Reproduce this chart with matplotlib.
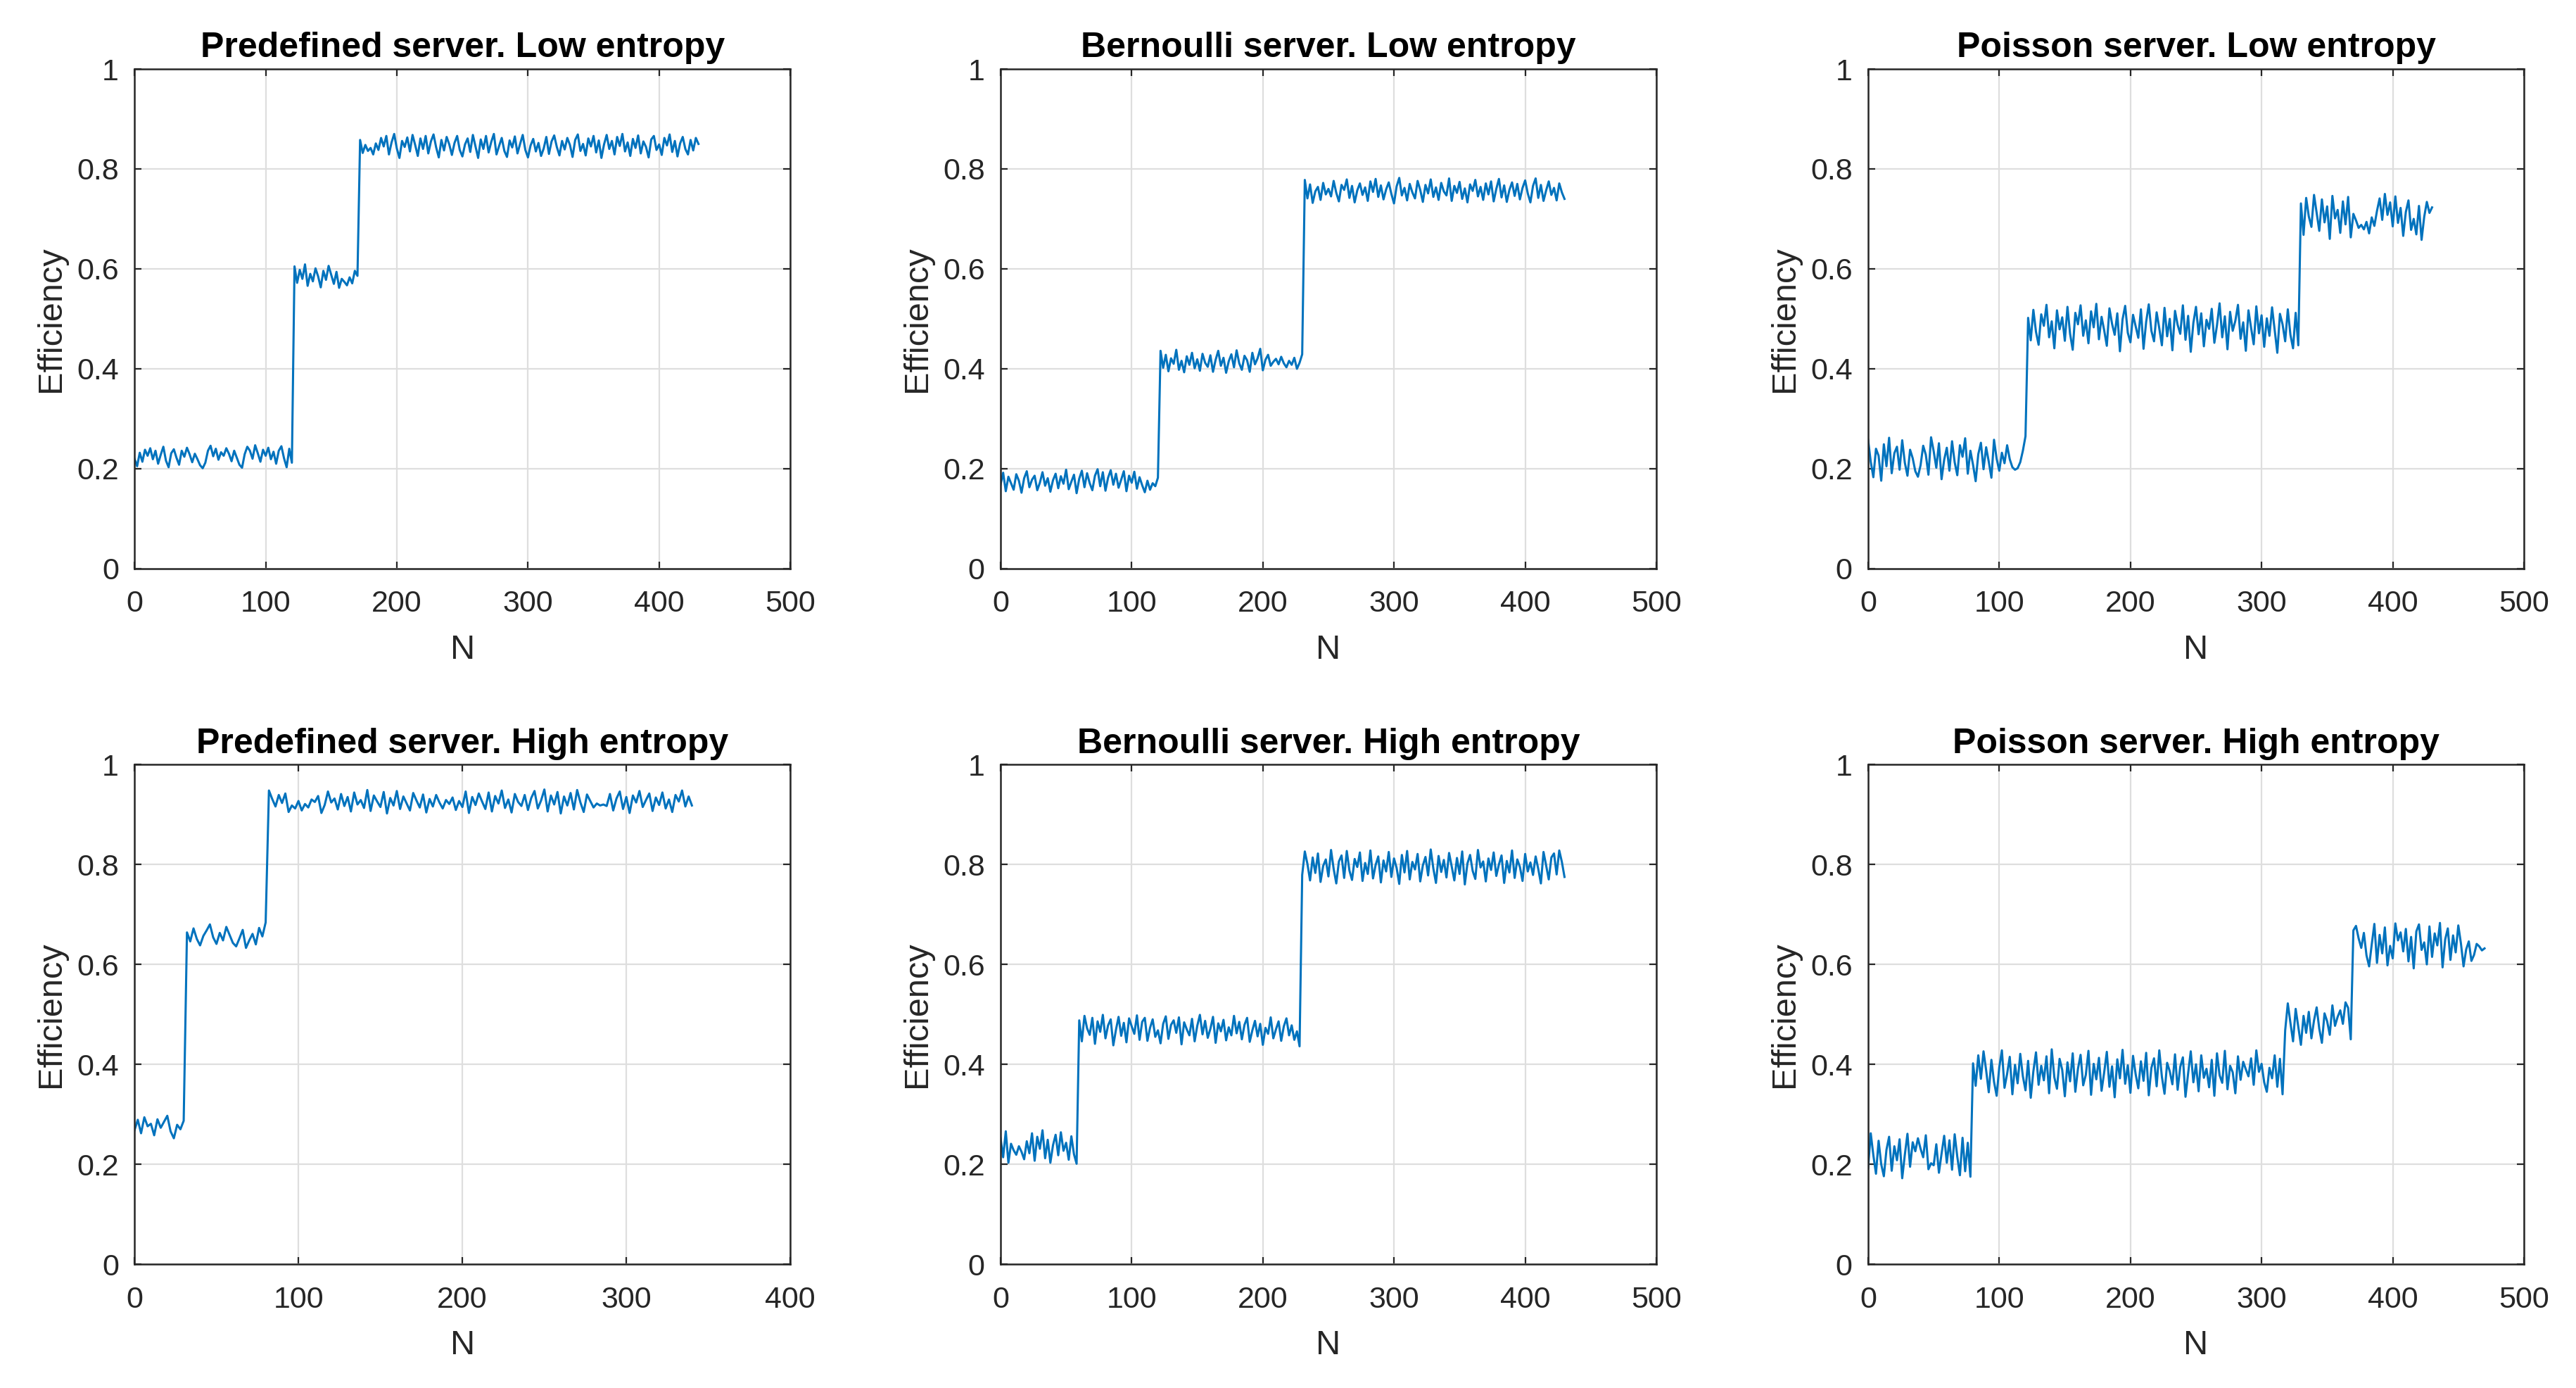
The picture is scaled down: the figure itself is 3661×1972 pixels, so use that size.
import numpy as np
import matplotlib
matplotlib.use("Agg")
import matplotlib.pyplot as plt

# efficiency values are stored in per-mille, one value every 2 steps of N
step = 2

pred_low = [
    # level 1
    220, 205, 232, 214, 238, 226, 241, 219, 236, 210,
    228, 244, 216, 203, 231, 239, 222, 208, 236, 224,
    242, 229, 213, 230, 219, 207, 201, 212, 236, 246,
    225, 240, 218, 233, 226, 241, 230, 215, 236, 222,
    208, 202, 229, 244, 236, 220, 247, 231, 214, 238,
    226, 242, 219, 234, 210, 236, 245, 221, 203, 240,
    212,
    # level 2
    605, 572, 598, 580, 609, 566, 590, 575, 601, 585,
    563, 596, 578, 606, 588, 570, 594, 562, 580, 574,
    567, 583, 571, 596, 586,
    # level 3
    858, 832, 848, 836, 842, 829, 851, 838, 862, 845,
    866, 829, 853, 870, 841, 822, 856, 844, 863, 835,
    868, 848, 826, 861, 840, 866, 831, 855, 869, 843,
    823, 858, 837, 864, 849, 828, 852, 866, 838, 825,
    849, 861, 834, 868, 845, 822, 859, 840, 866, 833,
    854, 870, 829, 846, 862, 836, 824, 857, 843, 865,
    831, 850, 868, 838, 823, 847, 860, 835, 852, 826,
    841, 864, 830, 855, 867, 844, 827, 856, 839, 862,
    848, 824, 858, 869, 836, 850, 827, 861, 845, 866,
    833, 857, 822, 849, 868, 840, 856, 829, 864, 846,
    870, 835, 853, 826, 860, 842, 867, 831, 855, 844,
    823, 859, 866, 838, 849, 828, 862, 847, 869, 834,
    856, 825, 851, 864, 840, 829, 858, 837, 862, 850,
]

bern_low = [
    168, 192, 155, 184, 171, 158, 189, 176, 152, 181,
    195, 163, 178, 186, 157, 172, 193, 166, 181, 154,
    177, 190, 161, 185, 170, 198, 159, 174, 188, 151,
    180, 196, 163, 191, 171, 157, 186, 199, 165, 193,
    156, 182, 197, 168, 190, 162, 178, 195, 155, 186,
    172, 194, 160, 183, 167, 153, 176, 158, 171, 165,
    182,
    436, 402, 428, 395, 421, 410, 438, 398, 416, 393,
    425, 408, 432, 401, 419, 396, 430, 412, 404, 427,
    394, 418, 436, 406, 422, 392, 415, 429, 403, 437,
    411, 398, 426, 417, 394, 432, 409, 421, 440, 397,
    418, 428, 406, 414, 420, 409, 424, 411, 403, 416,
    408, 422, 400, 412, 429,
    778, 741, 769, 732, 755, 764, 738, 772, 749, 760,
    745, 776, 752, 735, 768, 758, 779, 742, 766, 733,
    757, 771, 748, 763, 736, 775, 754, 780, 744, 767,
    739, 759, 773, 750, 731, 765, 782, 747, 762, 737,
    770, 753, 741, 776, 758, 734, 768, 751, 779, 744,
    763, 738, 772, 755, 747, 781, 736, 766, 752, 774,
    740, 761, 733, 769, 756, 778, 745, 764, 738, 771,
    749, 775, 735, 760, 780, 743, 767, 734, 758, 773,
    746, 770, 739, 762, 777, 751, 733, 766, 781, 742,
    768, 736, 757, 775, 748, 762, 737, 771, 753, 740,
]

pois_low = [
    258, 214, 183, 240, 226, 176, 249, 205, 262, 191,
    231, 244, 198, 257, 212, 186, 238, 221, 195, 184,
    207, 246, 228, 188, 263, 235, 202, 251, 179, 218,
    242, 196, 255, 213, 187, 247, 224, 261, 190, 236,
    208, 175, 229, 252, 199, 243, 214, 182, 258, 220,
    196, 232, 211, 247, 219, 203, 198, 201, 213, 236,
    265,
    502, 457, 518, 474, 448, 509, 486, 528, 463, 495,
    441, 517, 479, 503, 456, 524, 470, 438, 512, 489,
    527, 466, 497, 451, 515, 483, 530, 459, 504, 477,
    446, 521, 490, 468, 511, 435, 499, 526, 472, 453,
    508, 485, 462, 519, 440, 494, 529, 476, 455, 513,
    481, 447, 522, 465, 500, 437, 516, 488, 470, 527,
    458, 506, 434, 492, 524, 469, 511, 445, 498, 480,
    520, 452, 487, 531, 463, 505, 439, 514, 476, 496,
    528, 460, 493, 436, 517, 482, 449, 525, 471, 507,
    444, 501, 466, 523, 478, 432, 510, 489, 455, 519,
    468, 441, 512, 447,
    731, 668, 742, 705, 684, 748, 712, 676, 739, 693,
    725, 660, 746, 701, 718, 672, 735, 689, 744, 663,
    710, 697, 682, 688, 679, 694, 671, 703, 686, 716,
    741, 698, 750, 708, 733, 685, 745, 692, 722, 666,
    714, 737, 678, 700, 669, 726, 658, 704, 734, 712,
    723,
]

pred_high = [
    268, 289, 262, 294, 276, 281, 258, 290, 273, 285,
    297, 266, 252, 279, 270, 287,
    664, 646, 672, 651, 638, 657, 668, 680, 654, 641,
    663, 648, 675, 659, 643, 636, 652, 669, 633, 648,
    661, 640, 673, 656, 684,
    948, 931, 916, 939, 923, 942, 905, 918, 912, 927,
    908, 921, 914, 930, 925, 937, 903, 919, 946, 924,
    932, 910, 941, 917, 935, 906, 944, 920, 929, 913,
    949, 907, 938, 926, 915, 945, 902, 933, 918, 947,
    911, 936, 922, 908, 943, 928, 914, 940, 904, 931,
    916, 939, 924, 912, 929, 921, 934, 909, 927, 915,
    946, 903, 935, 919, 942, 926, 911, 944, 906, 937,
    922, 948, 913, 930, 904, 941, 925, 917, 939, 909,
    933, 947, 912, 928, 950, 906, 938, 920, 945, 902,
    936, 918, 943, 910, 949, 924, 905, 940, 927, 914,
    922, 918, 920, 917, 941, 908, 932, 946, 911, 935,
    903, 938, 924, 947, 915, 929, 942, 907, 934, 919,
    944, 912, 930, 905, 939, 926, 948, 916, 936, 918,
]

bern_high = [
    252, 214, 266, 203, 241, 228, 219, 236, 225, 210,
    246, 222, 262, 207, 255, 231, 268, 212, 249, 203,
    238, 259, 218, 264, 227, 243, 209, 256, 220, 201,
    488, 446, 497, 472, 459, 493, 441, 486, 465, 499,
    452, 478, 490, 438, 469, 495, 457, 483, 444, 492,
    476, 461, 498, 449, 485, 493, 447, 473, 490, 455,
    468, 442, 481, 496, 451, 479, 488, 463, 494, 440,
    484, 470, 458, 491, 446, 477, 499, 460, 487, 453,
    471, 495, 443, 482, 466, 489, 448, 474, 458, 497,
    462, 485, 450, 479, 493, 445, 468, 487, 456, 481,
    439, 473, 461, 494, 452, 470, 486, 447, 476, 492,
    458, 478, 449, 466, 436,
    779, 826, 801, 768, 814, 783, 822, 765, 797, 810,
    776, 829, 791, 762, 806, 818, 773, 827, 788, 769,
    811, 795, 824, 767, 803, 781, 828, 772, 799, 816,
    764, 808, 786, 825, 775, 812, 793, 761, 819, 784,
    827, 770, 805, 790, 821, 766, 798, 815, 778, 830,
    792, 763, 817, 785, 809, 774, 823, 796, 768, 813,
    781, 826, 760, 802, 819, 787, 771, 829, 794, 806,
    766, 812, 789, 824, 777, 800, 818, 763, 807, 784,
    828, 773, 810, 795, 767, 821, 786, 804, 779, 816,
    791, 762, 825, 798, 770, 814, 822, 780, 828, 805,
    775,
]

pois_high = [
    193, 262, 218, 181, 247, 200, 176, 229, 255, 187,
    236, 208, 250, 172, 219, 261, 195, 244, 226, 252,
    231, 214, 258, 190, 202, 198, 240, 183, 221, 257,
    203, 248, 189, 260, 215, 178, 253, 186, 243, 175,
    402, 357, 418, 371, 426, 388, 344, 409, 365, 337,
    394, 428, 353, 381, 415, 340, 399, 362, 421, 376,
    348, 407, 333, 386, 424, 359, 397, 368, 416, 342,
    430, 374, 351, 411, 389, 336, 404, 366, 422, 345,
    391, 419, 358, 379, 427, 339, 401, 370, 413, 347,
    384, 425, 355, 396, 334, 410, 372, 429, 361, 398,
    343, 417, 380, 352, 406, 367, 423, 338, 393, 412,
    356, 428, 375, 341, 403, 386, 360, 420, 349, 395,
    414, 335, 382, 426, 364, 400, 346, 418, 373, 391,
    354, 409, 337, 422, 378, 363, 427, 350, 397, 384,
    342, 416, 369, 405, 390, 376, 412, 359, 428, 385,
    401, 364, 345, 393, 372, 418, 355, 411, 340,
    468, 522, 483, 446, 511, 475, 439, 497, 463, 505,
    452, 488, 514, 471, 443, 502, 486, 459, 518, 477,
    495, 508, 481, 524, 513, 450,
    668, 677, 652, 633, 663, 618, 596, 640, 681, 603,
    659, 622, 674, 598, 637, 612, 682, 648, 664, 626,
    671, 606, 655, 592, 666, 680, 629, 644, 600, 676,
    615, 662, 638, 683, 594, 650, 672, 609, 658, 624,
    678, 642, 596, 630, 646, 607, 619, 641, 636, 628,
    632,
]

titles = [
    "Predefined server. Low entropy",
    "Bernoulli server. Low entropy",
    "Poisson server. Low entropy",
    "Predefined server. High entropy",
    "Bernoulli server. High entropy",
    "Poisson server. High entropy",
]
series = [pred_low, bern_low, pois_low, pred_high, bern_high, pois_high]
xmax = [500, 500, 500, 400, 500, 500]

plt.rcParams["font.family"] = ["Liberation Sans", "DejaVu Sans"]

dark = "#262626"
fig = plt.figure(figsize=(18.31, 9.86), dpi=200)

lefts = [0.0522, 0.3883, 0.7250]
bottoms = [0.5903, 0.0892]
w, h = 0.2545, 0.3600

for i, vals in enumerate(series):
    r, c = divmod(i, 3)
    ax = fig.add_axes([lefts[c], bottoms[r], w, h])
    y = np.array(vals) / 1000.0
    x = np.arange(len(y)) * step
    ax.plot(x, y, color="#0072BD", lw=1.1)

    ax.set_xlim(0, xmax[i])
    ax.set_ylim(0, 1)
    ax.set_xticks(np.arange(0, xmax[i] + 1, 100))
    ax.set_yticks([0, 0.2, 0.4, 0.6, 0.8, 1])
    ax.set_yticklabels(["0", "0.2", "0.4", "0.6", "0.8", "1"])
    ax.grid(True, color="#dedede", lw=0.8)
    ax.set_axisbelow(True)
    ax.tick_params(direction="in", length=3.6, width=0.8, top=True, right=True,
                   labelsize=15.5, colors=dark, pad=8)
    ax.tick_params(axis="x", pad=11)
    for s in ax.spines.values():
        s.set_color(dark)
        s.set_linewidth(0.9)

    ax.set_xlabel("N", fontsize=17.5, color=dark, labelpad=8)
    ax.set_ylabel("Efficiency", fontsize=17.5, color=dark, labelpad=5)
    ax.set_title(titles[i], fontsize=18, fontweight="bold", pad=6)

fig.savefig("out.png", dpi=200)
